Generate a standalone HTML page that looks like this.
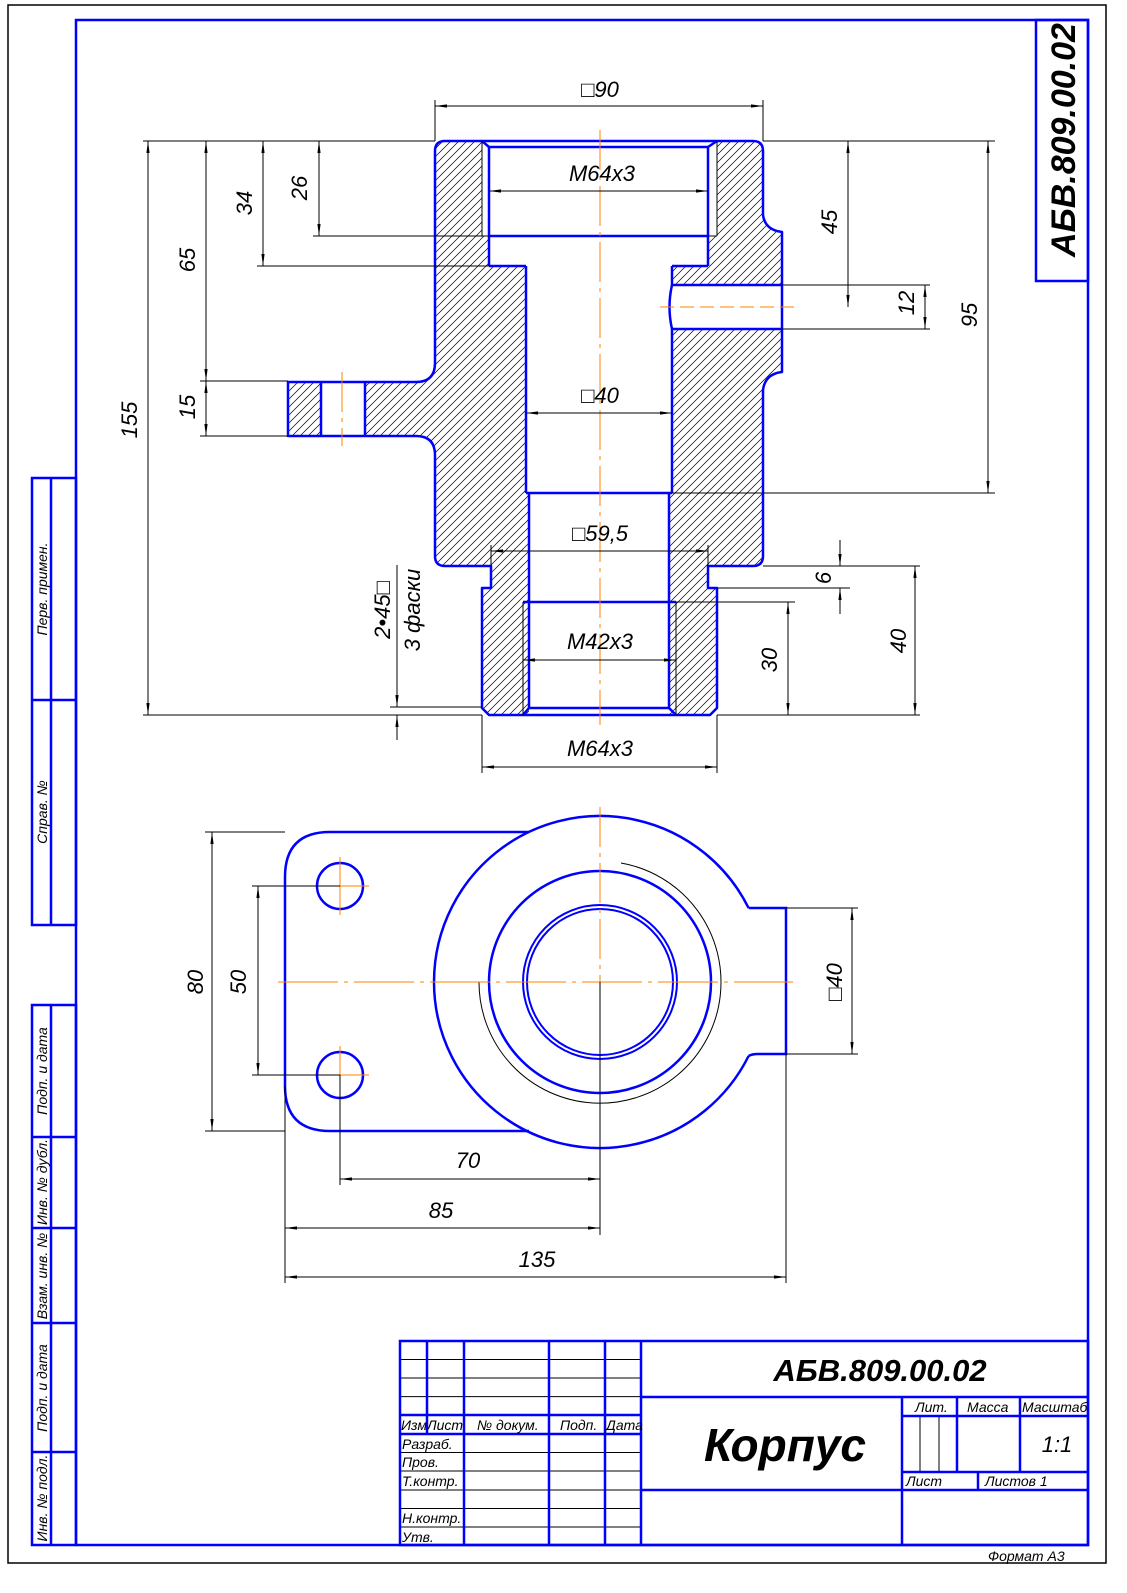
<!DOCTYPE html>
<html><head><meta charset="utf-8"><style>
html,body{margin:0;padding:0;background:#fff}
svg{display:block}
text{font-family:"Liberation Sans",sans-serif;font-style:italic;fill:#000}
</style></head><body>
<svg width="1127" height="1593" viewBox="0 0 1127 1593" xmlns="http://www.w3.org/2000/svg">
<defs>
<pattern id="h" patternUnits="userSpaceOnUse" width="8" height="8">
<path d="M-2,10 L10,-2 M-2,2 L2,-2 M6,10 L10,6" stroke="#000" stroke-width="0.7"/>
</pattern>
<marker id="a" viewBox="0 0 12 4" refX="12" refY="2" markerWidth="12" markerHeight="4" markerUnits="userSpaceOnUse" orient="auto-start-reverse">
<path d="M0,0.4 L12,2 L0,3.6 Z" fill="#000"/>
</marker>
</defs>

<!-- frames -->
<rect x="8" y="5" width="1098" height="1558" fill="none" stroke="#000" stroke-width="1.5"/>
<rect x="76" y="20" width="1012" height="1525" fill="none" stroke="#00f" stroke-width="2.5"/>
<rect x="1036" y="20" width="52" height="261" fill="none" stroke="#00f" stroke-width="2.5"/>
<text transform="translate(1075,140) rotate(-90)" text-anchor="middle" font-size="34" font-weight="bold">АБВ.809.00.02</text>

<!-- left strip -->
<g fill="none" stroke="#00f" stroke-width="2.5">
<rect x="32" y="478" width="44" height="447"/>
<line x1="51" y1="478" x2="51" y2="925"/>
<line x1="32" y1="700" x2="76" y2="700"/>
<rect x="32" y="1005" width="44" height="540"/>
<line x1="51" y1="1005" x2="51" y2="1545"/>
<line x1="32" y1="1137" x2="76" y2="1137"/>
<line x1="32" y1="1228" x2="76" y2="1228"/>
<line x1="32" y1="1323" x2="76" y2="1323"/>
<line x1="32" y1="1452" x2="76" y2="1452"/>
</g>
<g font-size="14">
<text transform="translate(47,589) rotate(-90)" text-anchor="middle">Перв. примен.</text>
<text transform="translate(47,812) rotate(-90)" text-anchor="middle">Справ. №</text>
<text transform="translate(47,1071) rotate(-90)" text-anchor="middle">Подп. и дата</text>
<text transform="translate(47,1182) rotate(-90)" text-anchor="middle">Инв. № дубл.</text>
<text transform="translate(47,1276) rotate(-90)" text-anchor="middle">Взам. инв. №</text>
<text transform="translate(47,1388) rotate(-90)" text-anchor="middle">Подп. и дата</text>
<text transform="translate(47,1498) rotate(-90)" text-anchor="middle">Инв. № подл.</text>
</g>

<!-- SECTION VIEW: hatching -->
<g fill="url(#h)" stroke="none">
<path d="M445,141 L482,141 L482,236 L489,236 L489,266 L526,266 L526,493 L529,493 L529,715 L489,715 L482,708 L482,588 L491,588 L491,566 L445,566 Q435,566 435,556 L435,455 Q435,436 416,436 L365,436 L365,382 L416,382 Q435,382 435,363 L435,151 Q435,141 445,141 Z"/>
<rect x="288" y="382" width="33" height="54"/>
<path d="M717,141 L753,141 Q763,141 763,151 L763,215 Q765,230 782,232 L782,285 L672,285 L672,266 L708,266 L708,236 L717,236 Z"/>
<path d="M672,329 L782,329 L782,372 Q765,374 763,390 L763,556 Q763,566 753,566 L708,566 L708,588 L717,588 L717,708 L710,715 L669,715 L669,493 L672,493 Z"/>
</g>

<!-- section outlines -->
<g fill="none" stroke="#00f" stroke-width="2.5" stroke-linejoin="round">
<path d="M445,141 L753,141 Q763,141 763,151 L763,215 Q765,230 782,232 L782,372 Q765,374 763,390 L763,556 Q763,566 753,566 L708,566 L708,588 L717,588 L717,708 L710,715 L489,715 L482,708 L482,588 L491,588 L491,566 L445,566 Q435,566 435,556 L435,455 Q435,436 416,436 L288,436 L288,382 L416,382 Q435,382 435,363 L435,151 Q435,141 445,141 Z"/>
<line x1="321" y1="382" x2="321" y2="436"/>
<line x1="365" y1="382" x2="365" y2="436"/>
<path d="M482,141 L489,147 L708,147 L717,141"/>
<line x1="489" y1="147" x2="489" y2="266"/>
<line x1="708" y1="147" x2="708" y2="266"/>
<line x1="489" y1="236" x2="708" y2="236"/>
<line x1="489" y1="266" x2="526" y2="266"/>
<line x1="672" y1="266" x2="708" y2="266"/>
<line x1="526" y1="266" x2="526" y2="493"/>
<path d="M672,266 L672,285 L782,285"/>
<path d="M782,329 L672,329 L672,493"/>
<path d="M672,285 Q667,307 672,329"/>
<line x1="526" y1="493" x2="672" y2="493"/>
<line x1="529" y1="493" x2="529" y2="708"/>
<line x1="669" y1="493" x2="669" y2="708"/>
<line x1="523" y1="602" x2="676" y2="602"/>
<path d="M523,715 L529,708 L669,708 L676,715"/>
</g>
<g stroke="#000" stroke-width="1" fill="none">
<line x1="482" y1="141" x2="482" y2="236"/>
<line x1="717" y1="141" x2="717" y2="236"/>
<line x1="482" y1="236" x2="489" y2="236"/>
<line x1="708" y1="236" x2="717" y2="236"/>
<line x1="523" y1="602" x2="523" y2="715"/>
<line x1="676" y1="602" x2="676" y2="715"/>
</g>
<!-- center lines section -->
<g stroke="#ff8000" stroke-width="1" stroke-dasharray="40,6,4,6" fill="none">
<line x1="600" y1="130" x2="600" y2="725"/>
<line x1="342" y1="372" x2="342" y2="446"/>
<line x1="660" y1="307" x2="795" y2="307" stroke-dasharray="14,6"/>
</g>

<!-- dimensions section -->
<g stroke="#000" stroke-width="1" fill="none">
<!-- ext lines -->
<line x1="435" y1="100" x2="435" y2="141"/>
<line x1="763" y1="100" x2="763" y2="141"/>
<line x1="143" y1="141" x2="435" y2="141"/>
<line x1="143" y1="715" x2="482" y2="715"/>
<line x1="257" y1="266" x2="489" y2="266"/>
<line x1="313" y1="236" x2="482" y2="236"/>
<line x1="200" y1="381" x2="288" y2="381"/>
<line x1="200" y1="436" x2="288" y2="436"/>
<line x1="763" y1="141" x2="995" y2="141"/>
<line x1="782" y1="285" x2="930" y2="285"/>
<line x1="782" y1="329" x2="930" y2="329"/>
<line x1="672" y1="493" x2="995" y2="493"/>
<line x1="763" y1="566" x2="920" y2="566"/>
<line x1="717" y1="588" x2="850" y2="588"/>
<line x1="676" y1="602" x2="795" y2="602"/>
<line x1="717" y1="715" x2="920" y2="715"/>
<line x1="491" y1="545" x2="491" y2="566"/>
<line x1="708" y1="545" x2="708" y2="566"/>
<line x1="482" y1="715" x2="482" y2="773"/>
<line x1="717" y1="715" x2="717" y2="773"/>
<line x1="390" y1="707" x2="482" y2="707"/>
<!-- dim lines -->
<g marker-start="url(#a)" marker-end="url(#a)">
<line x1="435" y1="106" x2="763" y2="106"/>
<line x1="489" y1="191" x2="708" y2="191"/>
<line x1="148" y1="141" x2="148" y2="715"/>
<line x1="206" y1="141" x2="206" y2="381"/>
<line x1="263" y1="141" x2="263" y2="266"/>
<line x1="319" y1="141" x2="319" y2="236"/>
<line x1="206" y1="381" x2="206" y2="436"/>
<line x1="848" y1="141" x2="848" y2="307"/>
<line x1="925" y1="285" x2="925" y2="329"/>
<line x1="988" y1="141" x2="988" y2="493"/>
<line x1="915" y1="566" x2="915" y2="715"/>
<line x1="788" y1="602" x2="788" y2="715"/>
<line x1="526" y1="413" x2="672" y2="413"/>
<line x1="491" y1="551" x2="708" y2="551"/>
<line x1="523" y1="660" x2="676" y2="660"/>
<line x1="482" y1="767" x2="717" y2="767"/>
</g>
<line x1="840" y1="540" x2="840" y2="566" marker-end="url(#a)"/>
<line x1="840" y1="614" x2="840" y2="588" marker-end="url(#a)"/>
<line x1="397" y1="565" x2="397" y2="707" marker-end="url(#a)"/>
<line x1="397" y1="740" x2="397" y2="715" marker-end="url(#a)"/>
</g>
<g font-size="22">
<text x="600" y="97" text-anchor="middle">□90</text>
<text x="602" y="181" text-anchor="middle">M64x3</text>
<text x="600" y="403" text-anchor="middle">□40</text>
<text x="600" y="541" text-anchor="middle">□59,5</text>
<text x="600" y="649" text-anchor="middle">M42x3</text>
<text x="600" y="756" text-anchor="middle">M64x3</text>
<text transform="translate(137,420) rotate(-90)" text-anchor="middle">155</text>
<text transform="translate(195,260) rotate(-90)" text-anchor="middle">65</text>
<text transform="translate(252,203) rotate(-90)" text-anchor="middle">34</text>
<text transform="translate(307,188) rotate(-90)" text-anchor="middle">26</text>
<text transform="translate(195,407) rotate(-90)" text-anchor="middle">15</text>
<text transform="translate(837,222) rotate(-90)" text-anchor="middle">45</text>
<text transform="translate(914,303) rotate(-90)" text-anchor="middle">12</text>
<text transform="translate(977,315) rotate(-90)" text-anchor="middle">95</text>
<text transform="translate(831,578) rotate(-90)" text-anchor="middle">6</text>
<text transform="translate(906,641) rotate(-90)" text-anchor="middle">40</text>
<text transform="translate(777,660) rotate(-90)" text-anchor="middle">30</text>
<text transform="translate(390,610) rotate(-90)" text-anchor="middle">2•45□</text>
<text transform="translate(420,610) rotate(-90)" text-anchor="middle">3 фаски</text>
</g>

<!-- PLAN VIEW -->
<g fill="none" stroke="#00f" stroke-width="2.5">
<path d="M748.6,908 A166,166 0 1,0 748.6,1056"/>
<path d="M748.6,908 Q752,908 758,908 L786,908 L786,1054 L758,1054 Q752,1054 748.6,1056"/>
<path d="M529,832 L330,832 Q285,832 285,877 L285,1086 Q285,1131 330,1131 L529,1131"/>
<circle cx="600" cy="982" r="111"/>
<circle cx="600" cy="982" r="73" stroke-width="2"/>
<circle cx="600" cy="982" r="77" stroke-width="2"/>
<circle cx="340" cy="886" r="23"/>
<circle cx="340" cy="1075" r="23"/>
</g>
<path d="M621,863 A121,121 0 1,1 479,982" fill="none" stroke="#000" stroke-width="1"/>
<g stroke="#ff8000" stroke-width="1" fill="none">
<line x1="278" y1="982" x2="793" y2="982" stroke-dasharray="60,6,4,6"/>
<line x1="600" y1="807" x2="600" y2="982" stroke-dasharray="40,6,4,6"/>
<line x1="340" y1="857" x2="340" y2="915"/>
<line x1="311" y1="886" x2="369" y2="886"/>
<line x1="340" y1="1046" x2="340" y2="1075"/>
<line x1="340" y1="1075" x2="369" y2="1075"/>
</g>
<g stroke="#000" stroke-width="1" fill="none">
<line x1="600" y1="982" x2="600" y2="1235"/>
<line x1="205" y1="832" x2="285" y2="832"/>
<line x1="205" y1="1131" x2="285" y2="1131"/>
<line x1="252" y1="886" x2="340" y2="886"/>
<line x1="252" y1="1075" x2="340" y2="1075"/>
<line x1="340" y1="1075" x2="340" y2="1185"/>
<line x1="285" y1="1086" x2="285" y2="1283"/>
<line x1="786" y1="1054" x2="786" y2="1283"/>
<line x1="786" y1="908" x2="858" y2="908"/>
<line x1="786" y1="1054" x2="858" y2="1054"/>
<g marker-start="url(#a)" marker-end="url(#a)">
<line x1="212" y1="832" x2="212" y2="1131"/>
<line x1="258" y1="886" x2="258" y2="1075"/>
<line x1="340" y1="1179" x2="600" y2="1179"/>
<line x1="285" y1="1228" x2="600" y2="1228"/>
<line x1="285" y1="1277" x2="786" y2="1277"/>
<line x1="852" y1="908" x2="852" y2="1054"/>
</g>
</g>
<g font-size="22">
<text transform="translate(203,982) rotate(-90)" text-anchor="middle">80</text>
<text transform="translate(246,982) rotate(-90)" text-anchor="middle">50</text>
<text transform="translate(842,982) rotate(-90)" text-anchor="middle">□40</text>
<text x="468" y="1168" text-anchor="middle">70</text>
<text x="441" y="1218" text-anchor="middle">85</text>
<text x="537" y="1267" text-anchor="middle">135</text>
</g>

<!-- TITLE BLOCK -->
<g stroke="#000" stroke-width="1">
<line x1="400" y1="1359.5" x2="641" y2="1359.5"/>
<line x1="400" y1="1378" x2="641" y2="1378"/>
<line x1="400" y1="1396.6" x2="641" y2="1396.6"/>
<line x1="400" y1="1452.5" x2="641" y2="1452.5"/>
<line x1="400" y1="1471" x2="641" y2="1471"/>
<line x1="400" y1="1490" x2="641" y2="1490"/>
<line x1="400" y1="1508.5" x2="641" y2="1508.5"/>
<line x1="400" y1="1527" x2="641" y2="1527"/>
<line x1="920" y1="1416" x2="920" y2="1472"/>
<line x1="939" y1="1416" x2="939" y2="1472"/>
</g>
<g stroke="#00f" stroke-width="2.5" fill="none">
<rect x="400" y="1341" width="688" height="204"/>
<line x1="427" y1="1341" x2="427" y2="1434"/>
<line x1="464" y1="1341" x2="464" y2="1545"/>
<line x1="549" y1="1341" x2="549" y2="1545"/>
<line x1="605" y1="1341" x2="605" y2="1545"/>
<line x1="641" y1="1341" x2="641" y2="1545"/>
<line x1="400" y1="1415" x2="641" y2="1415"/>
<line x1="400" y1="1434" x2="641" y2="1434"/>
<line x1="641" y1="1397" x2="1088" y2="1397"/>
<line x1="641" y1="1490" x2="1088" y2="1490"/>
<line x1="902" y1="1397" x2="902" y2="1545"/>
<line x1="902" y1="1416" x2="1088" y2="1416"/>
<line x1="902" y1="1472" x2="1088" y2="1472"/>
<line x1="957" y1="1397" x2="957" y2="1472"/>
<line x1="1020" y1="1397" x2="1020" y2="1472"/>
<line x1="978" y1="1472" x2="978" y2="1490"/>
</g>
<g font-size="14">
<text x="401" y="1430">Изм</text>
<text x="427" y="1430">Лист</text>
<text x="477" y="1430">№ докум.</text>
<text x="560" y="1430">Подп.</text>
<text x="606" y="1430">Дата</text>
<text x="402" y="1449">Разраб.</text>
<text x="402" y="1467">Пров.</text>
<text x="402" y="1486">Т.контр.</text>
<text x="402" y="1523">Н.контр.</text>
<text x="402" y="1542">Утв.</text>
<text x="915" y="1412">Лит.</text>
<text x="967" y="1412">Масса</text>
<text x="1022" y="1412">Масштаб</text>
<text x="906" y="1486">Лист</text>
<text x="985" y="1486">Листов   1</text>
<text x="988" y="1561">Формат   А3</text>
</g>
<text x="1057" y="1452" font-size="22" text-anchor="middle">1:1</text>
<text x="880" y="1381" font-size="31" font-weight="bold" text-anchor="middle">АБВ.809.00.02</text>
<text x="785" y="1461" font-size="46" font-weight="bold" text-anchor="middle">Корпус</text>
</svg>
</body></html>
